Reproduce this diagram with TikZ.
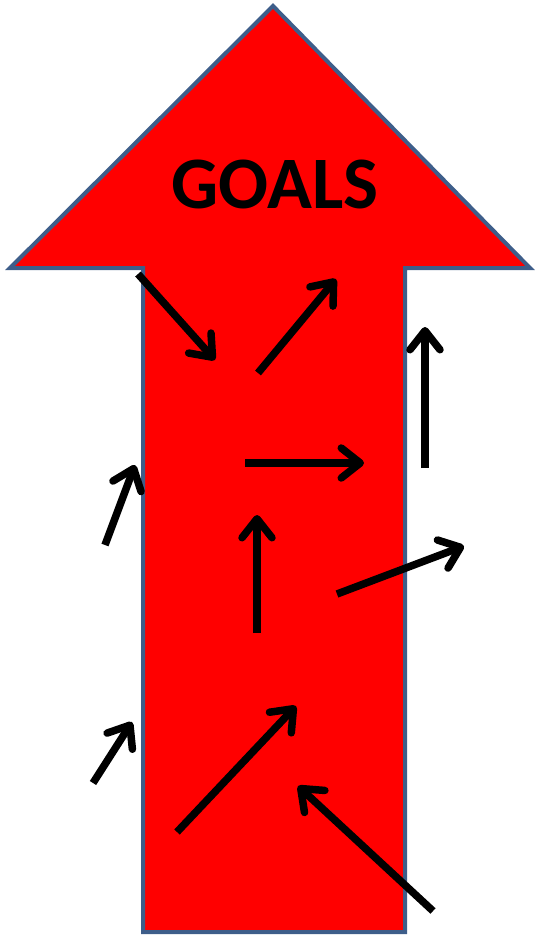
\documentclass[tikz,border=0pt]{standalone}
\usepackage{fontspec}
\setmainfont{Carlito}
\usetikzlibrary{arrows.meta}
\definecolor{outline}{RGB}{62,94,138}
\tikzset{
  bigarrow/.style={fill=red, draw=outline, line width=4pt, line join=miter},
  flow/.style={line width=7.5pt, line cap=butt, -{Straight Barb[length=19pt,width=30pt,round]}},
}
\begin{document}
\begin{tikzpicture}[x=1pt,y=-1pt]
\useasboundingbox (0,0) rectangle (541,937);
\draw[bigarrow] (273,6) -- (530,268) -- (405,268) -- (405,932) -- (143,932) -- (143,268) -- (10,268) -- cycle;
\node[font=\bfseries\fontsize{74}{84}\selectfont, inner sep=0pt] (goals) at (275,184) {GOALS};
\draw[flow] (138,274) -- (215,360);
\draw[flow] (258,373) -- (336,279);
\draw[flow] (425,468) -- (425,327);
\draw[flow] (245,463) -- (364,463);
\draw[flow] (105,545) -- (135,465);
\draw[flow] (257,633) -- (257,515);
\draw[flow] (337,594) -- (464,546);
\draw[flow] (93,783) -- (132,722);
\draw[flow] (177,832) -- (296,706);
\draw[flow] (433,911) -- (298,786);
\end{tikzpicture}
\end{document}
